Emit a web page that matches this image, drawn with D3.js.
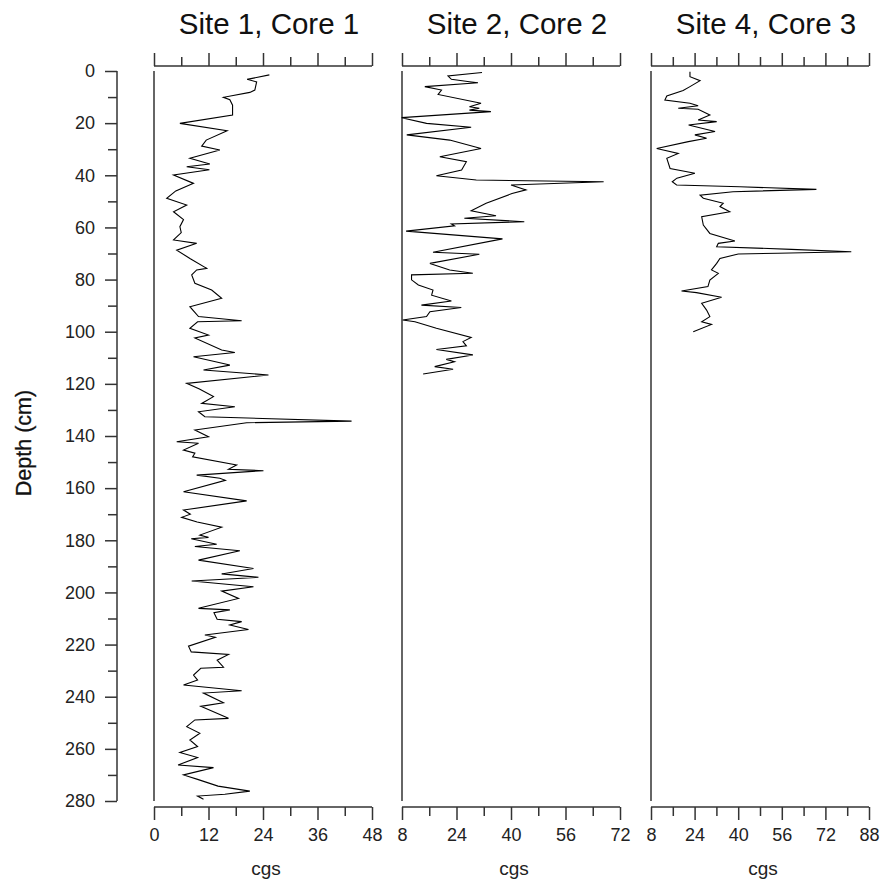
<!DOCTYPE html>
<html>
<head>
<meta charset="utf-8">
<script src="https://cdn.jsdelivr.net/npm/d3@7"></script>
<style>
  body { margin: 0; background: #fff; }
  svg { display: block; font-family: 'Liberation Sans', Arial, sans-serif; }
</style>
</head>
<body>
<div class="chart"></div>
<script>
// depth (cm) and cgs readings for each core
const core1Depth = [1.5, 3.2, 4.2, 7.3, 8.2, 10.1, 11, 13.1, 16.9, 20.1, 22.9, 26.5, 28.8, 30.3, 33.5, 35.7, 36.7, 37.9, 39.9, 43.1, 46, 48.8, 51.4, 54, 57, 59.7, 62, 64.8, 66.1, 68.7, 72, 75.7, 76.3, 78.2, 81.4, 84, 87.2, 90.4, 94.2, 95.8, 96.2, 98.7, 101.3, 102.4, 107, 108, 109.6, 112.8, 114.7, 116.6, 119.8, 122, 124.9, 127.5, 128.8, 130.7, 132.6, 134.3, 134.9, 137.7, 140.3, 142.2, 142.8, 145.4, 146.6, 148, 151.1, 152.8, 153.3, 155, 156.2, 157, 161.4, 164.9, 168.4, 170, 171.2, 173, 175, 178, 178.9, 179.4, 181.5, 182.4, 184, 187.6, 190.8, 192.9, 194.2, 195.6, 197.8, 199.5, 202.3, 206.1, 206.7, 207.8, 210.3, 211.2, 212.5, 214.2, 216.3, 217.2, 220.6, 222.8, 223.8, 226, 228.7, 229.1, 231.7, 233.6, 235.5, 237.7, 238.6, 242.3, 243.7, 248.3, 248.9, 251.5, 254, 256.6, 259.1, 261.4, 263.3, 266.2, 267.2, 270, 271.7, 274.3, 276.2, 277.4, 278.1, 279.3]
const core1Cgs = [25.4, 20.5, 22.6, 22.2, 21.1, 15.3, 16.7, 17.3, 17.3, 5.7, 16.1, 11.5, 10.5, 14.5, 7.9, 12.3, 7.2, 12.2, 4.3, 8.7, 4.8, 2.8, 7.2, 4.3, 6.5, 5.7, 6, 4.3, 9.4, 5, 8, 11.6, 9.4, 8.3, 9, 12.7, 14.9, 7.9, 9.8, 19.3, 9.6, 7.9, 12, 9, 14.9, 17.8, 8.7, 16.7, 10.9, 25.2, 7.2, 10, 13.1, 10.5, 17.8, 9.8, 11.2, 43.5, 20.4, 9, 12, 5, 9.8, 6.5, 9, 8.5, 18.2, 16.4, 24.1, 9.4, 14.5, 15.7, 6.5, 20.4, 6.5, 8, 6.1, 9.5, 14.9, 10.1, 12, 8.2, 13.8, 9, 18.9, 9.8, 21.9, 14.9, 23, 8.3, 21.9, 14.9, 18.6, 9.8, 16.7, 13.2, 13.9, 19.3, 16.7, 20.8, 11.2, 13.5, 7.6, 8.2, 16.4, 13.9, 15.3, 10.3, 8.7, 9.6, 6.5, 19.3, 10.9, 15.3, 10.3, 16.4, 9, 7.2, 10.1, 7.9, 9.6, 5.7, 9.6, 5.3, 13.1, 6.5, 9.6, 14.1, 21.1, 15.6, 9.6, 10.9]

const core2Depth = [0.6, 1.9, 3.2, 4.1, 4.5, 6, 7.3, 9, 12.4, 13.7, 14.3, 15, 15.6, 17.9, 20.1, 21.6, 24.5, 26.5, 29.7, 32.9, 34.8, 38, 40.2, 41.8, 42.5, 43.7, 45.6, 47, 50.7, 53.6, 55.5, 56.5, 57.8, 58.7, 59.4, 61.4, 64.4, 69.5, 70.3, 73.8, 76.3, 77.6, 78.2, 80.1, 82.1, 84, 86, 88.2, 89.8, 90.7, 92.3, 94.2, 95.5, 96.2, 98.7, 102.2, 103.8, 105.4, 106.8, 108.9, 110.6, 111.5, 113.4, 114.4, 116.2]
const core2Cgs = [31.5, 21.5, 22.5, 27.8, 30.3, 14.7, 19.6, 18.6, 31.2, 27.8, 30.7, 27.8, 34.1, 7.9, 15.2, 28.3, 9.4, 22, 31.2, 19.1, 26.9, 25.5, 18.1, 29.8, 67.2, 40, 44.4, 40.3, 32.7, 28.3, 35.6, 26.3, 43.9, 22.5, 23.4, 9.2, 37.5, 17.1, 30.7, 16.2, 22, 28.8, 10.8, 10.8, 12.8, 17.1, 16.7, 22.5, 13.7, 25.4, 16.2, 15.2, 8.2, 11.8, 18.1, 28.3, 25.9, 26.9, 18.1, 28.8, 21, 23.4, 17.6, 23, 14.2]

const core3Depth = [0.3, 2.2, 3.7, 6, 7.5, 9.6, 11.1, 12.4, 13.3, 14.3, 14.7, 16.9, 18.8, 19.4, 20.7, 23.2, 24.5, 25.8, 27.1, 29.7, 31.6, 33.5, 37.4, 39.2, 41.1, 42.5, 43.7, 44.4, 45.4, 46.3, 47.6, 48.8, 50.7, 52, 54, 55.9, 59.1, 62.3, 65.2, 66.1, 67.4, 68.4, 69.3, 69.9, 70.2, 71.9, 73.8, 76.3, 77.6, 80.2, 82.7, 84.4, 85, 86.8, 89.1, 91.7, 94.2, 96.2, 97.2, 100]
const core3Cgs = [22.3, 22.3, 26, 22.3, 19.8, 13.8, 13.1, 22.3, 25.3, 18, 25.3, 29.6, 25.3, 32.1, 21.8, 31.5, 24.1, 28.4, 21.7, 10.1, 18, 13.8, 15, 24.1, 17.5, 15.8, 17.4, 40.6, 68.7, 38.1, 26, 27.2, 34.5, 33.3, 36.9, 26.6, 27.2, 29.6, 38.8, 32.7, 32.1, 59.5, 81.5, 54.6, 40, 33.3, 32.1, 30.2, 32.7, 29.6, 28.9, 19.2, 24.7, 33.9, 26.6, 28.4, 29.6, 26.6, 30.2, 23.5]

const titles = ['Site 1, Core 1', 'Site 2, Core 2', 'Site 4, Core 3']
const xDomains = [[0, 48], [8, 72], [8, 88]]
const tickSteps = [6, 8, 8]
const labelSteps = [12, 16, 16]
const depthTicks = [0, 20, 40, 60, 80, 100, 120, 140, 160, 180, 200, 220, 240, 260, 280]

const W = 882
const H = 885
const AXIS = '#333'
const FONT = "'Liberation Sans', Arial, sans-serif"
const yTop = 71
const yBottom = 801
const panelLeft = [154, 402, 651]
const panelWidth = 218

const svg = d3.select('.chart').append('svg')
  .attr('width', W)
  .attr('height', H)

const y = d3.scaleLinear().domain([0, 280]).range([yTop, yBottom])

// depth axis
const yAxis = svg.append('g').attr('transform', 'translate(117,0)')
yAxis.call(d3.axisLeft(y).tickValues(d3.range(0, 281, 10)).tickSize(12).tickPadding(10)
  .tickFormat(d => depthTicks.includes(d) ? d : ''))
yAxis.select('.domain').attr('d', `M0,${yTop}V${yBottom}`)
yAxis.selectAll('.tick line').attr('x2', d => depthTicks.includes(d) ? -12 : -9)
yAxis.selectAll('path, line').attr('stroke', AXIS).attr('stroke-width', 1.5)
yAxis.selectAll('text').attr('font-size', 18).attr('fill', '#222').attr('font-family', FONT)

svg.append('text')
  .attr('transform', 'translate(31,443) rotate(-90)')
  .attr('text-anchor', 'middle')
  .attr('font-size', 21.5)
  .attr('fill', '#111')
  .attr('stroke', '#111')
  .attr('stroke-width', 0.3)
  .text('Depth (cm)')

const cores = [
  [core1Depth, core1Cgs],
  [core2Depth, core2Cgs],
  [core3Depth, core3Cgs]
]

cores.forEach(([depth, cgs], i) => {
  const [lo, hi] = xDomains[i]
  const x = d3.scaleLinear().domain(xDomains[i]).range([panelLeft[i], panelLeft[i] + panelWidth])
  const ticks = d3.range(lo, hi + 0.1, tickSteps[i])
  const isMajor = d => (d - lo) % labelSteps[i] === 0

  const styleAxis = (g, len, minorLen, dir) => {
    g.selectAll('.tick line').attr('y2', d => dir * (isMajor(d) ? len : minorLen))
    g.selectAll('path, line').attr('stroke', AXIS).attr('stroke-width', 1.5)
    g.select('.domain').attr('d', `M${x(lo)},0H${x(hi)}`)
  }

  // top axis, no labels
  const topAxis = svg.append('g').attr('transform', 'translate(0,66)')
  topAxis.call(d3.axisTop(x).tickValues(ticks).tickSize(13).tickFormat(''))
  styleAxis(topAxis, 13, 9, -1)

  // bottom axis
  const bottomAxis = svg.append('g').attr('transform', 'translate(0,807)')
  bottomAxis.call(d3.axisBottom(x).tickValues(ticks).tickSize(13).tickPadding(8)
    .tickFormat(d => isMajor(d) ? d : ''))
  styleAxis(bottomAxis, 13, 9, 1)
  bottomAxis.selectAll('text').attr('font-size', 18).attr('fill', '#222').attr('font-family', FONT)

  // panel baseline
  svg.append('line')
    .attr('x1', x(lo)).attr('x2', x(lo))
    .attr('y1', y(0)).attr('y2', y(280))
    .attr('stroke', AXIS)
    .attr('stroke-width', 1.5)

  svg.append('path')
    .datum(d3.zip(depth, cgs))
    .attr('fill', 'none')
    .attr('stroke', '#000')
    .attr('stroke-width', 1.1)
    .attr('d', d3.line().x(d => x(d[1])).y(d => y(d[0])))

  svg.append('text')
    .attr('x', x(lo) + panelWidth / 2 + 6)
    .attr('y', 34)
    .attr('text-anchor', 'middle')
    .attr('font-size', 29.5)
    .attr('fill', '#111')
    .text(titles[i])

  svg.append('text')
    .attr('x', x(lo) + panelWidth / 2 + 3)
    .attr('y', 875)
    .attr('text-anchor', 'middle')
    .attr('font-size', 19)
    .attr('fill', '#222')
    .text('cgs')
})
</script>
</body>
</html>
